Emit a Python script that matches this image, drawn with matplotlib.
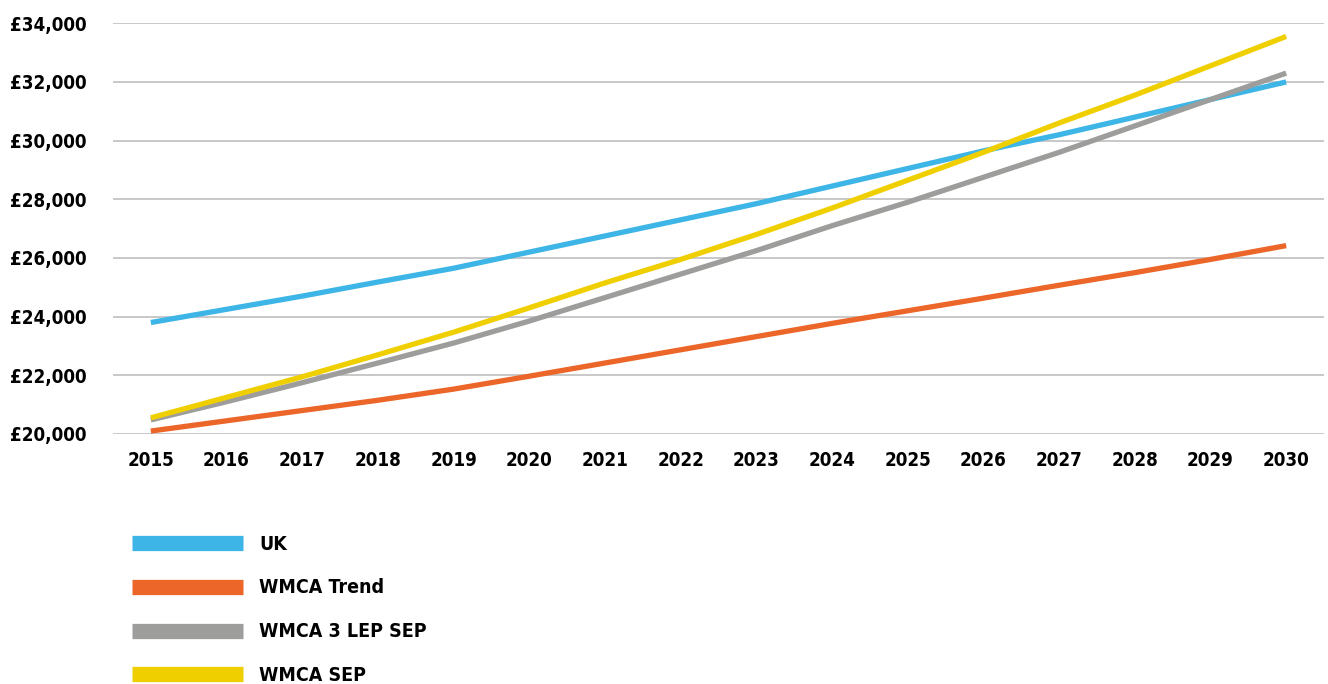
import matplotlib
matplotlib.use('Agg')
import matplotlib.pyplot as plt
from matplotlib.ticker import FuncFormatter

plt.rcParams['font.family'] = ['DejaVu Sans']
plt.rcParams['font.weight'] = 'bold'
plt.rcParams['font.stretch'] = 'condensed'

years = list(range(2015, 2031))

uk = [23800, 24250, 24700, 25180, 25650, 26200, 26750, 27300,
      27850, 28450, 29050, 29650, 30200, 30800, 31400, 32000]
wmca_trend = [20100, 20450, 20800, 21150, 21530, 21970, 22420, 22870,
              23320, 23770, 24200, 24630, 25070, 25500, 25950, 26420]
wmca_3lep = [20480, 21100, 21750, 22420, 23100, 23850, 24650, 25450,
             26250, 27100, 27900, 28750, 29600, 30500, 31400, 32300]
wmca_sep = [20550, 21250, 21950, 22700, 23470, 24300, 25150, 25950,
            26800, 27700, 28650, 29600, 30600, 31550, 32550, 33550]

series = [
    ('UK', uk, '#3db5e6'),
    ('WMCA Trend', wmca_trend, '#ec6629'),
    ('WMCA 3 LEP SEP', wmca_3lep, '#9d9d9c'),
    ('WMCA SEP', wmca_sep, '#efcf00'),
]

fig = plt.figure(figsize=(13.28, 6.84), dpi=100)
ax = fig.add_axes([0.0851, 0.3655, 0.9119, 0.6005])

x = list(range(len(years)))
for name, vals, col in series:
    ax.plot(x, vals, color=col, lw=3.8, label=name, solid_capstyle='butt')

ax.set_xlim(-0.5, len(years) - 0.5)
ax.set_ylim(20000, 34000)
ax.set_yticks(range(20000, 34001, 2000))
ax.yaxis.set_major_formatter(FuncFormatter(lambda v, p: '£{:,.0f}'.format(v)))
ax.set_xticks(x)
ax.set_xticklabels([str(y) for y in years])
ax.grid(axis='y', color='#bfbfbf', lw=1.2)
ax.set_axisbelow(True)
for s in ax.spines.values():
    s.set_visible(False)
ax.tick_params(length=0, labelsize=13.5)
ax.tick_params(axis='y', pad=19)
ax.tick_params(axis='x', pad=12)

handles, labels = ax.get_legend_handles_labels()
leg = fig.legend(handles, labels, loc='upper left', bbox_to_anchor=(0.086, 0.244),
                 frameon=False, fontsize=14, handlelength=5.7, handletextpad=0.85,
                 labelspacing=1.28)
for h in leg.get_lines():
    h.set_linewidth(11)

fig.savefig('out.png', dpi=100)
